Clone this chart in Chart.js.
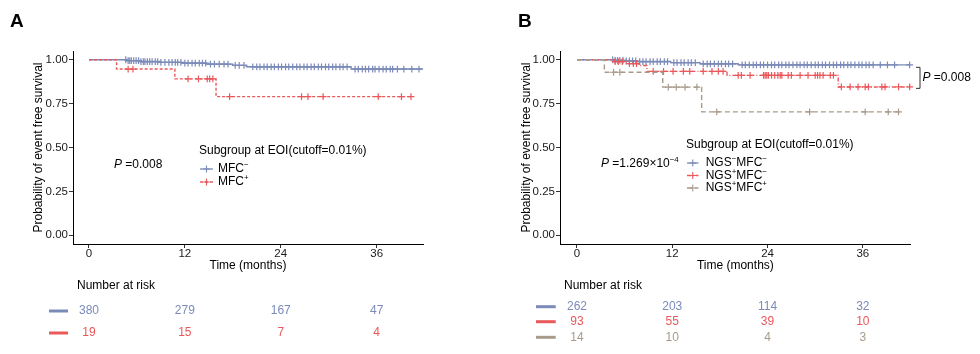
<!DOCTYPE html>
<html>
<head>
<meta charset="utf-8">
<script src="https://cdn.jsdelivr.net/npm/chart.js@4.4.1/dist/chart.umd.min.js"></script>
<style>
  html, body { margin: 0; padding: 0; background: #fff; }
  #wrap { position: relative; width: 980px; height: 354px; }
  #wrap canvas { position: absolute; top: 0; }
</style>
</head>
<body>
<div id="wrap">
  <canvas id="chartA" width="490" height="354" style="left:0"></canvas>
  <canvas id="chartB" width="490" height="354" style="left:490px"></canvas>
</div>
<script>
/* ---------- data ---------- */
const xTicks = [0, 12, 24, 36];
const yTicks = [0, 0.25, 0.5, 0.75, 1];

// Panel A : MFC- / MFC+
const aNegTimes = [0, 4.7, 6.5, 8.9, 11.6, 14.7, 18.0, 19.7, 32.8, 41.8];
const aNegSurv  = [1, 0.995, 0.99, 0.985, 0.981, 0.975, 0.968, 0.96, 0.947, 0.947];
const aNegCensor = [4.6, 4.9, 5.1, 5.3, 5.6, 5.9, 6.2, 6.5, 6.8, 7.0, 7.3, 7.6, 7.9, 8.3, 8.6, 9.0, 9.5, 10.0,
  10.4, 10.8, 11.1, 11.5, 12.0, 12.4, 12.9, 13.3, 13.8, 14.2, 14.6, 15.2, 15.7, 16.3, 16.9, 17.4, 18.3, 18.8,
  19.4, 20.5, 21.0, 21.4, 21.9, 22.3, 22.8, 23.2, 23.7, 24.1, 24.6, 25.0, 25.5, 26.0, 26.4, 26.9, 27.3, 27.8,
  28.2, 28.7, 29.1, 29.6, 30.0, 30.5, 30.9, 31.4, 31.8, 32.3, 33.3, 33.7, 34.2, 34.6, 35.0, 35.5, 35.8, 36.3,
  36.8, 37.2, 37.7, 38.0, 38.6, 39.4, 40.4, 41.3];
const aPosTimes = [0, 3.45, 10.75, 15.9, 40.3];
const aPosSurv  = [1, 0.947, 0.891, 0.79, 0.79];
const aPosCensor = [4.9, 5.5, 12.4, 13.7, 14.8, 15.1, 15.5, 17.6, 26.6, 27.4, 29.3, 36.2, 39.1, 40.3];
const aRiskNeg = [380, 279, 167, 47];
const aRiskPos = [19, 15, 7, 4];

// Panel B : NGS-MFC- / NGS+MFC- / NGS+MFC+
const bNNTimes = [0, 4.6, 6.0, 7.6, 11.8, 15.5, 20.3, 42.0];
const bNNSurv  = [1, 0.996, 0.993, 0.99, 0.984, 0.977, 0.971, 0.971];
const bNNCensor = [4.5, 4.8, 5.1, 5.4, 5.8, 6.2, 6.6, 7.0, 7.4, 7.9, 8.3, 8.7, 9.2, 9.6, 10.1, 10.5, 11.0, 11.4,
  12.2, 12.6, 13.1, 13.5, 14.0, 14.4, 14.9, 15.9, 16.4, 16.8, 17.3, 17.8, 18.2, 18.7, 19.1, 19.6, 20.8, 21.2,
  21.7, 22.2, 22.6, 23.1, 23.5, 24.0, 24.5, 24.9, 25.4, 25.8, 26.3, 26.7, 27.2, 27.7, 28.1, 28.6, 29.0, 29.5,
  30.0, 30.4, 30.9, 31.3, 31.8, 32.3, 32.7, 33.2, 33.6, 34.1, 34.5, 35.0, 35.5, 35.9, 36.4, 36.8, 37.3, 38.2,
  39.1, 40.0, 41.9];
const bPNTimes = [0, 4.7, 6.3, 7.8, 8.8, 18.9, 32.9, 42.0];
const bPNSurv  = [1, 0.99, 0.978, 0.967, 0.934, 0.911, 0.845, 0.845];
const bPNCensor = [4.8, 5.2, 5.7, 6.6, 7.1, 7.5, 9.6, 10.9, 12.1, 13.4, 14.2, 15.9, 17.0, 17.8, 18.4, 20.3, 20.7,
  21.8, 23.5, 23.7, 23.9, 24.1, 24.5, 24.9, 25.3, 25.6, 25.8, 26.6, 27.0, 28.1, 29.1, 30.0, 30.3, 30.6, 31.0,
  31.9, 32.3, 33.3, 34.4, 35.4, 36.3, 36.7, 38.4, 38.8, 40.5, 41.9];
const bPPTimes = [0, 3.45, 10.8, 15.7, 40.6];
const bPPSurv  = [1, 0.929, 0.844, 0.703, 0.703];
const bPPCensor = [4.6, 5.4, 11.5, 12.5, 13.6, 15.1, 17.6, 29.3, 36.3, 39.2, 40.5];
const bRiskNN = [262, 203, 114, 32];
const bRiskPN = [93, 55, 39, 10];
const bRiskPP = [14, 10, 4, 3];
const bPairBracket = [0.957, 0.837];

/* ---------- styling ---------- */
const FONT = '"Liberation Sans", Arial, Helvetica, sans-serif';
const BLUE = '#7b8ab8';
const RED = '#e9585b';
const TAN = '#a99b8b';
const SUP_M = '\u2212';

function survAt(times, surv, t) {
  let s = surv[0];
  for (let i = 0; i < times.length; i++) if (times[i] <= t) s = surv[i];
  return s;
}

function curve(times, surv, color, dash) {
  return {
    data: times.map((t, i) => ({ x: t, y: surv[i] })),
    stepped: true, borderColor: color, borderWidth: 1.4, borderDash: dash,
    pointRadius: 0, fill: false
  };
}

function marks(censor, times, surv, color) {
  return {
    data: censor.map(t => ({ x: t, y: survAt(times, surv, t) })),
    showLine: false, pointStyle: 'cross', pointRadius: 3.4, pointBorderWidth: 1.2,
    borderColor: color, pointBorderColor: color, backgroundColor: color, clip: false
  };
}

// text with superscripts / italics
function richText(ctx, parts, x, y, size, color) {
  let cx = x;
  ctx.textBaseline = 'middle';
  ctx.textAlign = 'left';
  ctx.fillStyle = color;
  parts.forEach(p => {
    const s = p.sup ? size * 0.66 : size;
    ctx.font = (p.italic ? 'italic ' : '') + s + 'px ' + FONT;
    ctx.fillText(p.t, cx, p.sup ? y - size * 0.33 : y);
    cx += ctx.measureText(p.t).width;
  });
  return cx;
}

const annotPlugin = {
  id: 'annot',
  afterDraw(chart, args, o) {
    const ctx = chart.ctx, xs = chart.scales.x, ys = chart.scales.y, area = chart.chartArea;
    ctx.save();

    // panel letter
    ctx.font = 'bold 19px ' + FONT;
    ctx.fillStyle = '#000';
    ctx.textBaseline = 'middle';
    ctx.textAlign = 'left';
    ctx.fillText(o.letter, o.letterX, o.letterY);

    // legend
    richText(ctx, [{ t: 'Subgroup at EOI(cutoff=0.01%)' }], o.legX, o.legTitleY, 12, '#000');
    o.items.forEach((it, i) => {
      const y = o.itemY[i];
      ctx.strokeStyle = it.color;
      ctx.lineWidth = 1.3;
      ctx.setLineDash(it.dash);
      ctx.beginPath();
      ctx.moveTo(o.symX0, y);
      ctx.lineTo(o.symX1, y);
      ctx.stroke();
      ctx.setLineDash([]);
      const cx = (o.symX0 + o.symX1) / 2;
      ctx.lineWidth = 1.1;
      ctx.beginPath();
      ctx.moveTo(cx - 3.4, y); ctx.lineTo(cx + 3.4, y);
      ctx.moveTo(cx, y - 3.4); ctx.lineTo(cx, y + 3.4);
      ctx.stroke();
      richText(ctx, it.parts, o.textX, y, 12, '#000');
    });

    // overall p value
    richText(ctx, o.pParts, o.pX, o.pY, 12, '#000');

    // pairwise bracket
    if (o.bracket) {
      const bx = area.right + 9.3;
      const y0 = ys.getPixelForValue(o.bracket[0]);
      const y1 = ys.getPixelForValue(o.bracket[1]);
      ctx.strokeStyle = '#333';
      ctx.lineWidth = 1;
      ctx.beginPath();
      ctx.moveTo(bx - 4, y0); ctx.lineTo(bx, y0); ctx.lineTo(bx, y1); ctx.lineTo(bx - 4, y1);
      ctx.stroke();
      richText(ctx, [{ t: 'P', italic: true }, { t: ' =0.008' }], bx + 2.5, (y0 + y1) / 2, 12, '#000');
    }

    // number at risk table
    richText(ctx, [{ t: 'Number at risk' }], o.riskX, o.riskTitleY, 12, '#000');
    o.riskRows.forEach((row, r) => {
      const y = o.riskY[r];
      ctx.strokeStyle = row.color;
      ctx.lineWidth = 3;
      ctx.beginPath();
      ctx.moveTo(o.segX0, y); ctx.lineTo(o.segX1, y);
      ctx.stroke();
      ctx.font = '12px ' + FONT;
      ctx.fillStyle = row.color;
      ctx.textAlign = 'center';
      ctx.textBaseline = 'middle';
      row.values.forEach((v, i) => ctx.fillText(String(v), xs.getPixelForValue(xTicks[i]), y));
    });
    ctx.restore();
  }
};

function scales(xMin, xMax, yWidth, yTitlePad) {
  return {
    x: {
      type: 'linear', min: xMin, max: xMax,
      afterBuildTicks: s => { s.ticks = xTicks.map(v => ({ value: v })); },
      afterFit: s => { s.height = 29; },
      grid: { drawOnChartArea: false, drawTicks: true, tickLength: 4, color: '#333' },
      border: { display: true, color: '#000', width: 1 },
      ticks: { color: '#1a1a1a', padding: 0.5, font: { family: FONT, size: 11.5, lineHeight: 1 } },
      title: { display: true, text: 'Time (months)', color: '#000', padding: { top: 0, bottom: 0.5 },
               font: { family: FONT, size: 12 } }
    },
    y: {
      type: 'linear', min: -0.05, max: 1.05,
      afterBuildTicks: s => { s.ticks = yTicks.map(v => ({ value: v })); },
      afterFit: s => { s.width = yWidth; },
      grid: { drawOnChartArea: false, drawTicks: true, tickLength: 4, color: '#333' },
      border: { display: true, color: '#000', width: 1 },
      ticks: { color: '#1a1a1a', padding: 1, font: { family: FONT, size: 11.5 }, callback: v => v.toFixed(2) },
      title: { display: true, text: 'Probability of event free survival', color: '#000',
               padding: { top: yTitlePad, bottom: 0 }, font: { family: FONT, size: 12 } }
    }
  };
}

const common = {
  responsive: false,
  animation: false,
  events: [],
  plugins: { legend: { display: false }, tooltip: { enabled: false } }
};

/* ---------- panel A ---------- */
new Chart(document.getElementById('chartA'), {
  type: 'line',
  data: {
    datasets: [
      marks(aPosCensor, aPosTimes, aPosSurv, RED),
      curve(aPosTimes, aPosSurv, RED, [3, 2]),
      marks(aNegCensor, aNegTimes, aNegSurv, BLUE),
      curve(aNegTimes, aNegSurv, BLUE, [])
    ]
  },
  options: Object.assign({}, common, {
    layout: { padding: { left: 0, top: 51, right: 67, bottom: 81 } },
    scales: scales(-2.0, 41.8, 73, 31.3),
    plugins: Object.assign({}, common.plugins, {
      annot: {
        letter: 'A', letterX: 10, letterY: 22,
        legX: 199, legTitleY: 151, symX0: 200, symX1: 213, textX: 218, itemY: [169, 182],
        items: [
          { color: BLUE, dash: [], parts: [{ t: 'MFC' }, { t: SUP_M, sup: true }] },
          { color: RED, dash: [3, 2], parts: [{ t: 'MFC' }, { t: '+', sup: true }] }
        ],
        pParts: [{ t: 'P', italic: true }, { t: ' =0.008' }], pX: 114, pY: 165,
        riskX: 77, riskTitleY: 286, segX0: 49, segX1: 68, riskY: [311, 333],
        riskRows: [{ color: BLUE, values: aRiskNeg }, { color: RED, values: aRiskPos }]
      }
    })
  }),
  plugins: [annotPlugin]
});

/* ---------- panel B ---------- */
new Chart(document.getElementById('chartB'), {
  type: 'line',
  data: {
    datasets: [
      marks(bPPCensor, bPPTimes, bPPSurv, TAN),
      curve(bPPTimes, bPPSurv, TAN, [5, 3]),
      marks(bPNCensor, bPNTimes, bPNSurv, RED),
      curve(bPNTimes, bPNSurv, RED, [4, 2, 1, 2]),
      marks(bNNCensor, bNNTimes, bNNSurv, BLUE),
      curve(bNNTimes, bNNSurv, BLUE, [])
    ]
  },
  options: Object.assign({}, common, {
    layout: { padding: { left: 0, top: 51, right: 69.3, bottom: 81 } },
    scales: scales(-2.14, 42.03, 70, 29.5),
    plugins: Object.assign({}, common.plugins, {
      annot: {
        letter: 'B', letterX: 28, letterY: 22,
        legX: 196, legTitleY: 144.5, symX0: 197, symX1: 208.5, textX: 215.7, itemY: [163, 175.5, 188],
        items: [
          { color: BLUE, dash: [], parts: [{ t: 'NGS' }, { t: SUP_M, sup: true }, { t: 'MFC' }, { t: SUP_M, sup: true }] },
          { color: RED, dash: [4, 2, 1, 2], parts: [{ t: 'NGS' }, { t: '+', sup: true }, { t: 'MFC' }, { t: SUP_M, sup: true }] },
          { color: TAN, dash: [5, 3], parts: [{ t: 'NGS' }, { t: '+', sup: true }, { t: 'MFC' }, { t: '+', sup: true }] }
        ],
        pParts: [{ t: 'P', italic: true }, { t: ' =1.269\u00d710' }, { t: SUP_M + '4', sup: true }], pX: 111, pY: 164,
        bracket: bPairBracket,
        riskX: 74, riskTitleY: 286, segX0: 46, segX1: 65.7, riskY: [306.7, 321.7, 337.3],
        riskRows: [{ color: BLUE, values: bRiskNN }, { color: RED, values: bRiskPN }, { color: TAN, values: bRiskPP }]
      }
    })
  }),
  plugins: [annotPlugin]
});
</script>
</body>
</html>
